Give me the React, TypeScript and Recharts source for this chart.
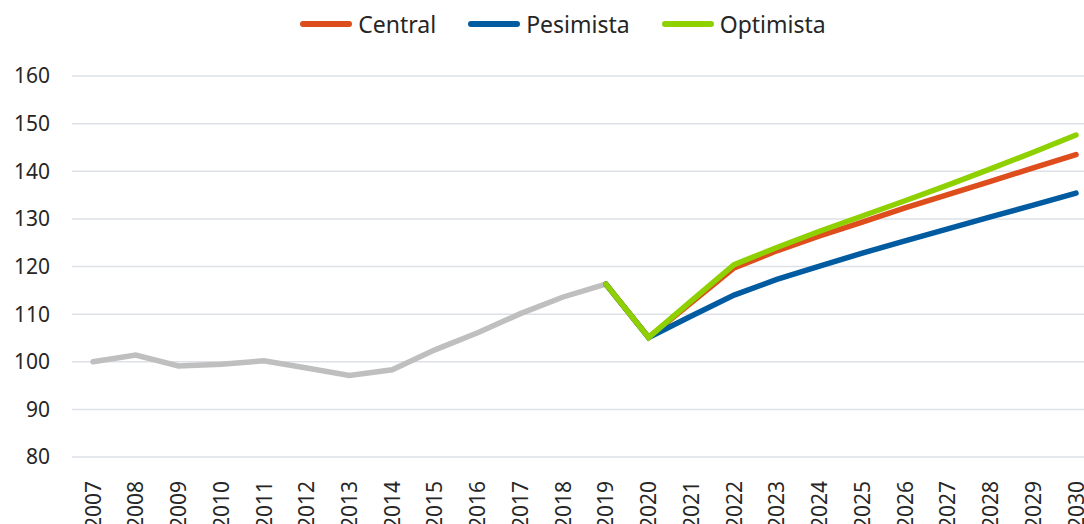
import React from 'react';
import { LineChart, Line, XAxis, YAxis, CartesianGrid, Legend } from 'recharts';

const years = ['2007','2008','2009','2010','2011','2012','2013','2014','2015','2016','2017','2018','2019','2020','2021','2022','2023','2024','2025','2026','2027','2028','2029','2030'];
const historico = [100, 101.4, 99.1, 99.5, 100.2, 98.7, 97.1, 98.3, 102.5, 106.1, 110.1, 113.6, 116.3];
const central = [116.3, 105.1, 112.4, 119.7, 123.3, 126.4, 129.3, 132.3, 135.1, 137.9, 140.7, 143.5];
const pesimista = [116.3, 105.1, 109.6, 114.0, 117.3, 120.1, 122.8, 125.4, 127.9, 130.4, 132.9, 135.4];
const optimista = [116.3, 105.1, 112.8, 120.4, 124.0, 127.4, 130.6, 133.8, 137.1, 140.5, 144.0, 147.6];
const yTicks = [80, 90, 100, 110, 120, 130, 140, 150, 160];

const forecastStart = 12;
const data = years.map((y, i) => ({
  year: y,
  historico: i < historico.length ? historico[i] : null,
  central: i >= forecastStart ? central[i - forecastStart] : null,
  pesimista: i >= forecastStart ? pesimista[i - forecastStart] : null,
  optimista: i >= forecastStart ? optimista[i - forecastStart] : null,
}));

const FONT = '"Noto Sans", sans-serif';
const TEXT = '#262626';
const legendItems = [
  { name: 'Central', color: '#DE4D1C' },
  { name: 'Pesimista', color: '#005BA1' },
  { name: 'Optimista', color: '#8FD000' },
];

const LegendContent = () => (
  <div style={{ height: 32, display: 'flex', justifyContent: 'center', alignItems: 'center', paddingLeft: 42, fontFamily: FONT, fontSize: 23, color: TEXT }}>
    {legendItems.map((it, idx) => (
      <div key={it.name} style={{ display: 'flex', alignItems: 'center', marginLeft: idx === 0 ? 0 : 32 }}>
        <div style={{ width: 52, height: 6, borderRadius: 3, background: it.color, marginRight: 6 }} />
        <span>{it.name}</span>
      </div>
    ))}
  </div>
);

const XTick = (props: any) => {
  const { x, y, payload } = props;
  return (
    <g transform={`translate(${x},${y})`}>
      <text transform="rotate(-90)" x={-16} y={0} dy="0.36em" textAnchor="end" fontFamily={FONT} fontSize={21} fill={TEXT}>
        {payload.value}
      </text>
    </g>
  );
};

export default function App() {
  return (
    <div style={{ position: 'absolute', left: 0, top: 0, width: 1084, height: 524, background: '#fff' }}>
      <LineChart width={1084} height={524} data={data} margin={{ top: 44, right: 0, bottom: 0, left: 0 }}>
        <CartesianGrid vertical={false} stroke="#DDE1E7" strokeWidth={1.5} />
        <XAxis dataKey="year" interval={0} padding={{ left: 21, right: 8 }} axisLine={false} tickLine={false} height={67} tick={<XTick />} />
        <YAxis domain={[80, 160]} ticks={yTicks} width={72} axisLine={false} tickLine={false} tickSize={0} tickMargin={22}
          tick={{ fontFamily: FONT, fontSize: 21, fill: TEXT }} />
        <Legend verticalAlign="top" content={<LegendContent />} wrapperStyle={{ top: 8, left: 0, width: 1084 }} />
        <Line dataKey="historico" stroke="#BFBFBF" strokeWidth={5.5} dot={false} isAnimationActive={false} strokeLinecap="round" legendType="none" />
        <Line dataKey="central" stroke="#DE4D1C" strokeWidth={5.5} dot={false} isAnimationActive={false} strokeLinecap="round" />
        <Line dataKey="pesimista" stroke="#005BA1" strokeWidth={5.5} dot={false} isAnimationActive={false} strokeLinecap="round" />
        <Line dataKey="optimista" stroke="#8FD000" strokeWidth={5.5} dot={false} isAnimationActive={false} strokeLinecap="round" />
      </LineChart>
    </div>
  );
}
